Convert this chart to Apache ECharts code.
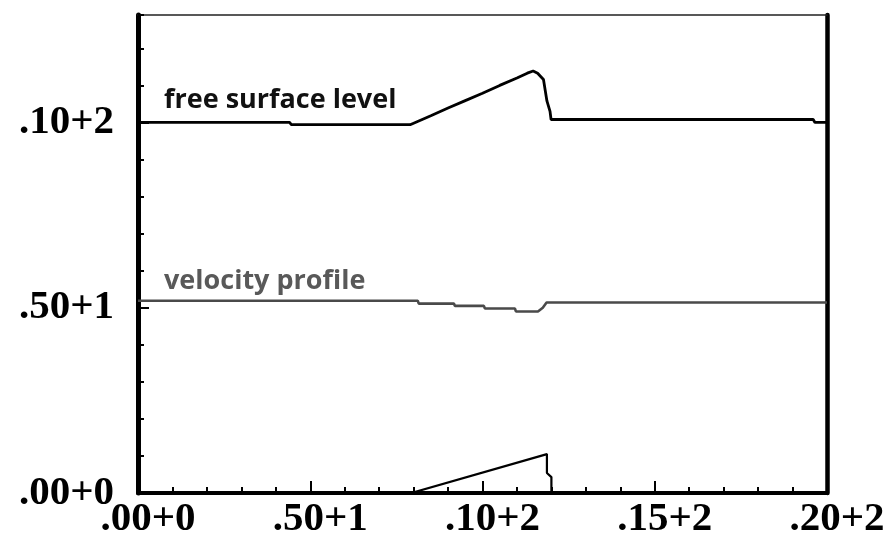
<!DOCTYPE html>
<html>
<head>
<meta charset="utf-8">
<script src="https://cdn.jsdelivr.net/npm/echarts@6/dist/echarts.min.js"></script>
<style>
html,body{margin:0;padding:0;background:#fff;}
#chart{width:896px;height:541px;}
</style>
</head>
<body>
<div id="chart"></div>
<script>
// ---- data ----
var xTickValues = [0, 5, 10, 15, 20];
var xTickLabels = ['.00+0', '.50+1', '.10+2', '.15+2', '.20+2'];
var yTickValues = [0, 5, 10];
var yTickLabels = ['.00+0', '.50+1', '.10+2'];

var freeSurface = [
  [0, 10.0], [4.4, 10.0], [4.45, 9.94], [7.9, 9.94], [8.5, 10.18], [9.0, 10.39],
  [9.5, 10.59], [10.0, 10.79], [10.5, 11.0], [11.0, 11.2], [11.3, 11.33],
  [11.47, 11.39], [11.6, 11.33], [11.77, 11.16], [11.87, 10.58], [11.96, 10.3],
  [11.99, 10.08], [19.6, 10.08], [19.65, 10.0], [20, 10.0]
];
var velocity = [
  [0, 5.19], [8.12, 5.19], [8.15, 5.11], [9.17, 5.11], [9.2, 5.05], [10.04, 5.05],
  [10.07, 4.98], [10.94, 4.98], [10.97, 4.9], [11.61, 4.9], [11.75, 5.0],
  [11.86, 5.14], [20, 5.14]
];
var bottomProfile = [
  [0, 0], [7.93, 0], [11.87, 1.05], [11.87, 0.54], [12.0, 0.43], [12.0, 0], [20, 0]
];
var seriesNames = ['free surface level', 'velocity profile'];

// ---- chart ----
var chart = echarts.init(document.getElementById('chart'), null, {renderer: 'canvas'});
var labelFont = {fontFamily: 'Liberation Serif', fontWeight: 'bold', fontSize: 41, color: '#000'};
function xFmt(v) { var i = xTickValues.indexOf(v); return i >= 0 ? xTickLabels[i] : ''; }
function yFmt(v) { var i = yTickValues.indexOf(v); return i >= 0 ? yTickLabels[i] : ''; }

var option = {
  backgroundColor: '#fff',
  animation: false,
  grid: {left: 138, right: 69, top: 15, bottom: 48, containLabel: false},
  xAxis: [
    {type: 'value', position: 'bottom', min: 0, max: 20, interval: 1,
      axisLine: {onZero: false, lineStyle: {color: '#000', width: 4}},
      axisTick: {inside: true, length: 6, lineStyle: {color: '#000', width: 2}},
      axisLabel: {show: false}, splitLine: {show: false}},
    {type: 'value', position: 'bottom', min: 0, max: 20, interval: 5,
      axisLine: {show: false, onZero: false},
      axisTick: {inside: true, length: 12, lineStyle: {color: '#000', width: 2}},
      axisLabel: Object.assign({formatter: xFmt, margin: 6, padding: [0, 0, 0, 20]}, labelFont),
      splitLine: {show: false}},
    {type: 'value', position: 'top', min: 0, max: 20,
      axisLine: {onZero: false, lineStyle: {color: '#222', width: 1.5}},
      axisTick: {show: false}, axisLabel: {show: false}, splitLine: {show: false}}
  ],
  yAxis: [
    {type: 'value', position: 'left', min: 0, max: 12.9, interval: 1,
      axisLine: {onZero: false, lineStyle: {color: '#000', width: 5}},
      axisTick: {inside: true, length: 6, lineStyle: {color: '#000', width: 2}},
      axisLabel: {show: false}, splitLine: {show: false}},
    {type: 'value', position: 'left', min: 0, max: 12.9, interval: 5,
      axisLine: {show: false, onZero: false},
      axisTick: {inside: true, length: 11, lineStyle: {color: '#000', width: 2}},
      axisLabel: Object.assign({formatter: yFmt, margin: 24, showMaxLabel: false}, labelFont),
      splitLine: {show: false}},
    {type: 'value', position: 'right', min: 0, max: 12.9,
      axisLine: {onZero: false, lineStyle: {color: '#000', width: 4.5}},
      axisTick: {show: false}, axisLabel: {show: false}, splitLine: {show: false}}
  ],
  series: [
    {name: seriesNames[0], type: 'line', data: freeSurface, xAxisIndex: 0, yAxisIndex: 0,
      showSymbol: false, lineStyle: {color: '#000', width: 2.8}},
    {name: seriesNames[1], type: 'line', data: velocity, xAxisIndex: 0, yAxisIndex: 0,
      showSymbol: false, lineStyle: {color: '#4a4a4a', width: 2.6}},
    {name: 'bottom', type: 'line', data: bottomProfile, xAxisIndex: 0, yAxisIndex: 0,
      showSymbol: false, lineStyle: {color: '#000', width: 2.2}}
  ],
  graphic: [
    {type: 'text', left: 164, top: 87,
      style: {text: seriesNames[0], fill: '#111', font: 'bold 27px "Open Sans"'}},
    {type: 'text', left: 164, top: 268,
      style: {text: seriesNames[1], fill: '#595959', font: 'bold 27px "Open Sans"'}}
  ]
};
chart.setOption(option);
</script>
</body>
</html>
